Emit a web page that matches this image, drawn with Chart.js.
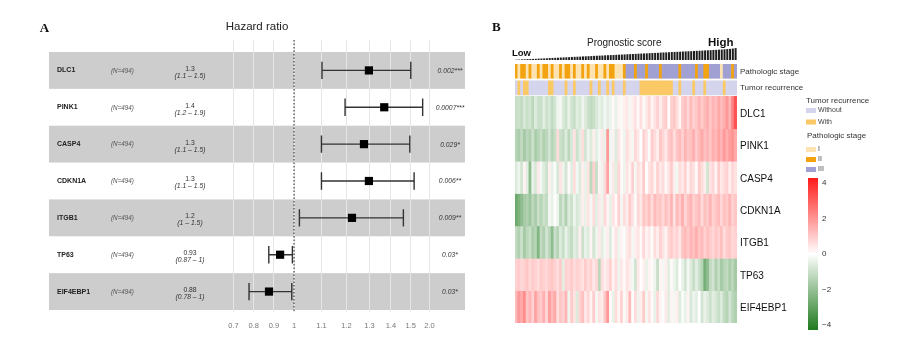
<!DOCTYPE html>
<html lang="en">
<head>
<meta charset="UTF-8">
<title>Hazard ratio forest plot and prognostic score heatmap</title>
<script src="https://cdn.jsdelivr.net/npm/chart.js"></script>
<style>
  body { margin: 0; background: #fff; }
  .page { position: relative; width: 899px; height: 356px; overflow: hidden; }
  canvas { position: absolute; }
</style>
</head>
<body>
<div class="page">
  <canvas id="forest" width="490" height="356" style="left:0;top:0"></canvas>
  <canvas id="score" width="222" height="12" style="left:515px;top:48px"></canvas>
  <canvas id="heat" width="409" height="356" style="left:490px;top:0"></canvas>
</div>

<script>
// ---- panel A: Cox model results ----
const genes = ['DLC1', 'PINK1', 'CASP4', 'CDKN1A', 'ITGB1', 'TP63', 'EIF4EBP1'];
const nLabels = ['(N=494)', '(N=494)', '(N=494)', '(N=494)', '(N=494)', '(N=494)', '(N=494)'];
const hrEst = [1.297, 1.368, 1.275, 1.297, 1.223, 0.931, 0.876];
const hrLow = [1.102, 1.194, 1.100, 1.100, 1.019, 0.875, 0.777];
const hrHigh = [1.500, 1.820, 1.495, 1.590, 1.462, 0.992, 0.989];
const hrText = ['1.3', '1.4', '1.3', '1.3', '1.2', '0.93', '0.88'];
const ciText = ['(1.1 – 1.5)', '(1.2 – 1.9)', '(1.1 – 1.5)', '(1.1 – 1.5)', '(1 – 1.5)', '(0.87 – 1)', '(0.78 – 1)'];
const pText = ['0.002***', '0.0007***', '0.029*', '0.006**', '0.009**', '0.03*', '0.03*'];
const hrTicks = [0.7, 0.8, 0.9, 1, 1.1, 1.2, 1.3, 1.4, 1.5, 2.0];
const hrTickLabels = ['0.7', '0.8', '0.9', '1', '1.1', '1.2', '1.3', '1.4', '1.5', '2.0'];

// ---- panel B: heatmap ----
const heatGenes = ['DLC1', 'PINK1', 'CASP4', 'CDKN1A', 'ITGB1', 'TP63', 'EIF4EBP1'];
const scoreBars = [
  0.3, 0.4, 0.6, 0.7, 0.8, 0.9, 1.0, 1.1, 1.3, 1.4,
  1.5, 1.6, 1.8, 1.9, 2.0, 2.1, 2.3, 2.4, 2.5, 2.6,
  2.8, 2.9, 3.0, 3.1, 3.3, 3.4, 3.5, 3.6, 3.8, 3.9,
  4.0, 4.1, 4.3, 4.4, 4.5, 4.6, 4.8, 4.9, 5.0, 5.1,
  5.3, 5.4, 5.5, 5.6, 5.8, 5.9, 6.0, 6.1, 6.3, 6.4,
  6.5, 6.6, 6.8, 6.9, 7.0, 7.1, 7.3, 7.4, 7.5, 7.6,
  7.8, 7.9, 8.0, 8.1, 8.3, 8.4, 8.5, 8.6, 8.8, 8.9,
  9.0, 9.2, 9.3, 9.5, 9.6, 9.8, 10.0, 10.2, 10.5, 10.9
];
const stageCodes = [
  2, 1, 2, 2, 1, 2, 1, 1, 2, 1,
  2, 2, 1, 2, 1, 1, 2, 1, 2, 2,
  1, 2, 1, 1, 2, 1, 2, 1, 1, 2,
  1, 1, 2, 1, 2, 2, 1, 1, 1, 2,
  3, 3, 3, 2, 3, 3, 3, 2, 3, 3,
  3, 3, 2, 3, 3, 3, 3, 3, 3, 2,
  3, 3, 3, 3, 3, 2, 3, 3, 2, 2,
  3, 3, 3, 3, 1, 3, 3, 3, 2, 3
];
const recurCodes = [
  0, 1, 0, 1, 1, 0, 0, 0, 0, 0,
  0, 0, 1, 1, 0, 0, 0, 0, 1, 0,
  0, 1, 0, 0, 0, 0, 0, 1, 0, 0,
  1, 0, 0, 1, 0, 1, 0, 0, 0, 1,
  0, 0, 0, 0, 0, 1, 1, 1, 1, 1,
  1, 1, 1, 1, 1, 1, 1, 0, 0, 1,
  0, 0, 0, 0, 1, 0, 0, 0, 1, 0,
  0, 0, 0, 0, 0, 1, 0, 0, 0, 0
];
const heatDLC1 = [
  -1.0, -0.9, -1.1, -0.7, -1.0, -0.8, -1.2, -0.6, -0.9, -1.0,
  -0.5, -0.9, -0.7, -1.1, -0.8, -0.3, -0.2, -0.6, -0.9, -0.4,
  -0.8, -1.0, -0.5, -0.7, -0.3, -0.6, -0.9, -1.1, -1.0, -0.7,
  -0.4, -0.6, -0.2, -0.5, -0.3, 0.1, -0.4, 0.2, -0.1, 0.3,
  0.4, -0.2, 0.3, 0.5, 0.1, 0.6, -0.1, 0.4, 0.7, 0.2,
  0.5, 0.8, 0.3, 0.7, 0.9, 0.1, 0.8, 1.0, 0.6, 0.2,
  0.9, 1.1, 0.7, 1.2, 0.8, 1.0, 1.3, 0.9, 1.2, 1.4,
  1.0, 1.3, 1.1, 1.5, 1.2, 1.4, 1.8, 1.3, 2.2, 3.0
];
const heatPINK1 = [
  -1.3, -1.5, -1.1, -1.6, -1.2, -1.4, -0.9, -1.5, -1.3, -1.0,
  -1.4, -1.2, -0.8, -1.3, -1.0, 0.6, -0.9, -1.1, -0.6, -1.2,
  -0.7, 0.5, -0.9, -0.5, 0.6, -0.8, -0.3, -0.6, 0.3, -0.5,
  -0.2, 0.4, -0.4, 1.8, -0.3, 0.2, -0.6, 0.5, 0.1, -0.3,
  0.6, 0.3, -0.2, 0.7, 0.4, 0.0, 0.8, 0.5, -0.1, 0.9,
  0.6, 0.3, 1.0, 0.7, 0.4, 0.9, 1.1, 0.6, 1.0, 1.2,
  0.8, 1.3, 1.0, 1.1, 1.4, 0.9, 1.2, 1.5, 1.1, 1.3,
  1.0, 1.4, 1.2, 1.6, 1.3, 1.8, 1.4, 1.7, 1.9, 1.5
];
const heatCASP4 = [
  -0.6, -0.3, -0.8, 0.2, -0.5, -2.0, -0.4, -0.7, 0.4, -0.2,
  -0.6, -0.9, 0.3, -0.4, -0.1, -0.7, 0.5, -0.3, -0.8, 0.1,
  -0.5, 0.6, -0.2, -0.6, 0.3, -0.4, 0.5, -1.2, 0.8, -1.0,
  0.2, -0.3, 0.6, 1.6, -0.2, 0.4, -0.5, 0.7, 0.1, -0.3,
  0.5, 0.2, 0.8, -0.2, 0.6, 0.3, 0.9, 0.0, 0.5, 0.7,
  0.2, 0.8, 0.4, 0.6, 0.1, 0.5, 0.9, 0.3, -0.2, 0.6,
  0.4, 0.8, 0.2, 0.7, 0.5, 0.1, 0.9, 0.6, 0.3, -0.8,
  0.5, 0.7, 0.2, 0.9, 0.4, 0.6, 0.8, 0.3, 0.7, 0.5
];
const heatCDKN1A = [
  -2.6, -2.3, -2.0, -1.6, -1.4, -1.7, -1.2, -1.5, -1.0, -1.3,
  -0.9, -1.1, -0.2, -0.4, 0.0, -0.3, -1.2, -0.8, -1.4, -0.6,
  -0.9, -0.3, -0.7, -0.5, 0.3, -0.4, 0.5, -0.2, 0.6, -0.5,
  0.4, -0.3, 0.7, 0.2, -0.4, 0.5, 0.1, 0.8, -0.2, 0.6,
  0.3, 0.9, 0.5, -0.1, 0.7, 0.4, 1.0, 0.8, 1.1, 0.6,
  1.2, 0.9, 1.0, 0.7, 1.1, 0.8, 1.3, 0.5, 1.2, 0.9,
  1.4, 0.7, 1.1, 1.3, 0.8, 1.0, 1.2, 0.6, 1.1, 0.9,
  1.3, 0.8, 1.0, 1.2, 0.7, 1.1, 0.9, 1.3, 0.8, 1.0
];
const heatITGB1 = [
  -1.1, -1.4, -0.9, -1.6, -1.2, -1.0, -1.5, -1.3, -2.2, -1.1,
  -1.4, -0.8, -1.2, -2.0, -0.9, -1.3, -0.6, -1.0, -0.4, -0.8,
  -1.1, -0.5, -0.7, 0.3, -0.9, -0.4, -0.6, 0.2, -0.8, -0.3,
  0.4, -0.5, -0.2, 0.3, -0.6, 0.1, 0.5, -0.3, 0.2, -0.1,
  0.4, 0.6, -0.2, 0.3, 0.5, 0.1, 0.7, 0.2, 0.4, -0.1,
  0.6, 0.3, 0.8, 0.5, 0.2, 0.7, 0.9, 0.6, 0.8, 0.4,
  1.0, 1.2, 0.9, 1.3, 1.1, 1.4, 1.0, 1.2, 0.8, 1.1,
  0.9, 0.7, 1.0, 0.8, 1.1, 0.6, 0.9, 1.0, 0.7, 0.8
];
const heatTP63 = [
  0.8, 0.9, 0.7, 0.8, 1.0, 0.7, 0.9, 0.8, 0.6, 0.9,
  0.8, 0.7, 0.9, 1.0, 0.8, 0.6, 0.9, -0.5, 0.8, 0.7,
  0.9, 0.6, 0.8, 0.7, 0.5, 0.9, 0.6, 0.8, 0.4, 0.7,
  -1.2, 0.6, 0.3, 0.5, 0.8, 0.2, 0.6, -0.3, 0.4, 0.1,
  0.5, 0.3, -0.2, -0.8, 0.4, 0.0, 0.3, -0.4, 0.2, 0.1,
  -0.3, -1.0, 0.2, -0.2, 0.3, -0.5, 0.1, -0.3, -0.6, 0.0,
  -0.4, -0.8, -0.2, -0.6, -1.0, -0.5, -0.9, -1.3, -2.4, -2.0,
  -1.1, -0.8, -1.4, -1.0, -1.6, -1.3, -1.1, -1.5, -1.2, -1.6
];
const heatEIF4EBP1 = [
  1.2, 1.8, 1.5, 2.0, 1.0, 1.3, 0.8, 1.6, 1.1, 0.9,
  1.4, 0.7, 1.7, 1.2, 1.5, 0.6, 1.0, 0.8, 1.3, -0.3,
  0.9, 0.5, -0.6, 0.8, 1.1, 0.4, 0.7, 0.2, 0.9, -0.2,
  0.5, 0.3, 1.0, 1.8, 0.1, -0.4, 0.6, 0.2, 0.8, -0.1,
  0.4, 1.2, 0.0, 0.6, -0.3, 0.3, 0.9, -0.2, 0.5, 0.1,
  -0.4, 0.7, 0.2, -0.1, 0.4, -0.5, 0.2, -0.2, 0.3, -0.6,
  -0.1, -0.4, 0.2, -0.7, -0.3, -0.5, 0.0, -0.8, -0.4, -0.6,
  -0.9, -0.5, -0.7, -1.0, -0.6, -1.1, -1.3, -0.8, -1.2, -1.4
];
const heatRows = [heatDLC1, heatPINK1, heatCASP4, heatCDKN1A, heatITGB1, heatTP63, heatEIF4EBP1];

const stageNames = ['I', 'II', 'III'];
const stageColors = ['#fde2b2', '#f2a30f', '#a0a0d2'];
const recurNames = ['Without', 'With'];
const recurColors = ['#d4d4ed', '#fbc866'];
const colorbarLabels = ['4', '2', '0', '−2', '−4'];

const FONT = "'Liberation Sans', Arial, sans-serif";
const SERIF = "'Liberation Serif', 'Times New Roman', serif";

// HR axis: linear below 1, log between 1 and 1.5, squeezed above
function hrPos(v) {
  if (v < 1) return (v - 1) * 0.7;
  if (v <= 1.5) return Math.log(v);
  return Math.log(1.5) + (v - 1.5) * 0.129;
}

function heatColor(v) {
  const t = Math.min(Math.abs(v) / 4, 1);
  const end = v >= 0 ? [255, 26, 26] : [30, 122, 30];
  const c = end.map(e => Math.round(255 + (e - 255) * t));
  return 'rgb(' + c.join(',') + ')';
}

const forestTable = {
  id: 'forestTable',
  beforeDraw(chart) {
    const { ctx, chartArea, scales: { y } } = chart;
    ctx.save();
    ctx.fillStyle = '#cdcdcd';
    genes.forEach((g, i) => {
      if (i % 2 !== 0) return;
      const top = y.getPixelForValue(i - 0.5);
      const bot = y.getPixelForValue(i + 0.5);
      ctx.fillRect(chartArea.left, top, chartArea.right - chartArea.left, bot - top);
    });
    ctx.restore();
  },
  beforeDatasetsDraw(chart) {
    const { ctx, chartArea, scales: { x, y } } = chart;
    ctx.save();
    // reference line at HR = 1
    const x1 = x.getPixelForValue(hrPos(1));
    ctx.strokeStyle = '#222';
    ctx.lineWidth = 1;
    ctx.setLineDash([1.5, 2]);
    ctx.beginPath();
    ctx.moveTo(x1, chartArea.top);
    ctx.lineTo(x1, chartArea.bottom + 1);
    ctx.stroke();
    ctx.setLineDash([]);
    // confidence intervals
    ctx.strokeStyle = '#333';
    ctx.lineWidth = 1.4;
    genes.forEach((g, i) => {
      const yc = y.getPixelForValue(i);
      const xl = x.getPixelForValue(hrPos(hrLow[i]));
      const xh = x.getPixelForValue(hrPos(hrHigh[i]));
      ctx.beginPath();
      ctx.moveTo(xl, yc); ctx.lineTo(xh, yc);
      ctx.moveTo(xl, yc - 8.7); ctx.lineTo(xl, yc + 8.7);
      ctx.moveTo(xh, yc - 8.7); ctx.lineTo(xh, yc + 8.7);
      ctx.stroke();
    });
    ctx.restore();
  },
  afterDraw(chart) {
    const { ctx, scales: { y } } = chart;
    ctx.save();
    ctx.textBaseline = 'middle';
    ctx.fillStyle = '#111';
    ctx.font = 'bold 13px ' + SERIF;
    ctx.textAlign = 'center';
    ctx.fillText('A', 44.5, 29);
    ctx.fillStyle = '#222';
    ctx.font = '11.5px ' + FONT;
    ctx.fillText('Hazard ratio', 257, 27);

    genes.forEach((g, i) => {
      const yc = y.getPixelForValue(i);
      ctx.textAlign = 'left';
      ctx.fillStyle = '#222';
      ctx.font = 'bold 7px ' + FONT;
      ctx.fillText(g, 57, yc);
      ctx.fillStyle = '#555';
      ctx.font = 'italic 6.3px ' + FONT;
      ctx.fillText(nLabels[i], 111, yc + 0.5);
      ctx.textAlign = 'center';
      ctx.fillStyle = '#333';
      ctx.font = '6.8px ' + FONT;
      ctx.fillText(hrText[i], 190, yc - 1.5);
      ctx.font = 'italic 6.8px ' + FONT;
      ctx.fillText(ciText[i], 190, yc + 5.5);
      ctx.fillText(pText[i], 450, yc + 0.5);
    });
    ctx.restore();
  }
};

new Chart(document.getElementById('forest'), {
  type: 'scatter',
  data: {
    datasets: [{
      data: genes.map((g, i) => ({ x: hrPos(hrEst[i]), y: i })),
      pointStyle: 'rect',
      pointRadius: 5.8,
      backgroundColor: '#000',
      borderWidth: 0
    }]
  },
  options: {
    responsive: false,
    animation: false,
    devicePixelRatio: 1,
    layout: { padding: { left: 49, right: 25, top: 40, bottom: 14 } },
    plugins: { legend: { display: false }, tooltip: { enabled: false } },
    scales: {
      x: {
        type: 'linear',
        min: -245 / 288,
        max: 171 / 288,
        afterBuildTicks: s => { s.ticks = hrTicks.map(v => ({ value: hrPos(v) })); },
        afterFit: s => { s.height = 30; s.paddingLeft = 0; s.paddingRight = 0; },
        grid: { color: '#e6e6e6', lineWidth: 1, drawTicks: false },
        border: { display: false },
        ticks: {
          autoSkip: false,
          maxRotation: 0,
          padding: 9,
          color: '#777',
          font: { family: FONT, size: 7.5 },
          callback: (v, i) => hrTickLabels[i]
        }
      },
      y: { type: 'linear', display: false, reverse: true, min: -0.825, max: 6.554 }
    }
  },
  plugins: [forestTable]
});

// ---- prognostic score wedge ----
const colLabels = scoreBars.map((v, i) => String(i + 1));
new Chart(document.getElementById('score'), {
  type: 'bar',
  data: {
    labels: colLabels,
    datasets: [{ data: scoreBars, backgroundColor: '#1e1e1e', barPercentage: 0.72, categoryPercentage: 1, borderWidth: 0 }]
  },
  options: {
    responsive: false,
    animation: false,
    devicePixelRatio: 1,
    plugins: { legend: { display: false }, tooltip: { enabled: false } },
    scales: {
      x: { display: false },
      y: { display: false, min: 0, max: 11 }
    }
  }
});

// ---- annotation bars + heatmap, with titles and legend ----
const OX = 490; // canvas left offset on the page
const heatTickPos = [0.25, 0.74].concat(heatGenes.map((g, r) => r + 1.55));
const heatTickLabels = ['Pathologic stage', 'Tumor recurrence'].concat(heatGenes);
const barBase = { grouped: false, barPercentage: 1, categoryPercentage: 1, borderWidth: 0 };

const heatDecor = {
  id: 'heatDecor',
  afterDraw(chart) {
    const ctx = chart.ctx;
    ctx.save();
    ctx.textBaseline = 'middle';
    ctx.textAlign = 'left';
    ctx.fillStyle = '#111';
    ctx.font = 'bold 13px ' + SERIF;
    ctx.fillText('B', 492 - OX, 28);
    ctx.fillStyle = '#222';
    ctx.font = '10px ' + FONT;
    ctx.fillText('Prognostic score', 587 - OX, 43);
    ctx.fillStyle = '#111';
    ctx.font = 'bold 9.5px ' + FONT;
    ctx.fillText('Low', 512 - OX, 53);
    ctx.font = 'bold 11.5px ' + FONT;
    ctx.fillText('High', 708 - OX, 43);

    // legend: tumor recurrence
    ctx.fillStyle = '#333';
    ctx.font = '8px ' + FONT;
    ctx.fillText('Tumor recurrence', 806 - OX, 101);
    recurNames.forEach((n, i) => {
      const yc = 110.5 + i * 11.5;
      ctx.fillStyle = recurColors[i];
      ctx.fillRect(806 - OX, yc - 2.5, 10, 5);
      ctx.fillStyle = '#444';
      ctx.font = '7px ' + FONT;
      ctx.fillText(n, 818 - OX, yc);
    });
    // legend: pathologic stage
    ctx.fillStyle = '#333';
    ctx.font = '8px ' + FONT;
    ctx.fillText('Pathologic stage', 807 - OX, 136);
    stageNames.forEach((n, i) => {
      const yc = 149.5 + i * 10;
      ctx.fillStyle = stageColors[i];
      ctx.fillRect(806 - OX, yc - 2.5, 10, 5);
      ctx.fillStyle = '#444';
      ctx.font = '7px ' + FONT;
      ctx.fillText(n, 818 - OX, yc);
    });
    // colour bar
    const g = ctx.createLinearGradient(0, 178, 0, 330);
    g.addColorStop(0, heatColor(4.28));
    g.addColorStop(0.5, heatColor(0));
    g.addColorStop(1, heatColor(-4.28));
    ctx.fillStyle = g;
    ctx.fillRect(808 - OX, 178, 10, 152);
    ctx.fillStyle = '#333';
    ctx.font = '8px ' + FONT;
    colorbarLabels.forEach((t, i) => ctx.fillText(t, 822 - OX, 183 + i * 35.5));
    ctx.restore();
  }
};

new Chart(document.getElementById('heat'), {
  type: 'bar',
  data: {
    labels: colLabels,
    datasets: [
      Object.assign({ data: stageCodes.map(() => [0.01, 0.44]), backgroundColor: stageCodes.map(c => stageColors[c - 1]) }, barBase),
      Object.assign({ data: recurCodes.map(() => [0.52, 0.955]), backgroundColor: recurCodes.map(c => recurColors[c]) }, barBase)
    ].concat(heatRows.map((vals, r) =>
      Object.assign({ data: vals.map(() => [r + 1, r + 2]), backgroundColor: vals.map(heatColor) }, barBase)))
  },
  options: {
    responsive: false,
    animation: false,
    devicePixelRatio: 1,
    layout: { padding: { left: 25, right: 94, top: 64, bottom: 33 } },
    plugins: { legend: { display: false }, tooltip: { enabled: false } },
    scales: {
      x: { display: false },
      y: {
        type: 'linear',
        position: 'right',
        reverse: true,
        min: 0,
        max: 8,
        grid: { display: false, drawTicks: false },
        border: { display: false },
        afterBuildTicks: s => { s.ticks = heatTickPos.map(v => ({ value: v })); },
        afterFit: s => { s.width = 68; s.paddingTop = 0; s.paddingBottom = 0; },
        ticks: {
          autoSkip: false,
          padding: 3,
          color: ctx => ctx.index < 2 ? '#333' : '#111',
          font: ctx => ({ family: FONT, size: ctx.index < 2 ? 8 : 10 }),
          callback: (v, i) => heatTickLabels[i]
        }
      }
    }
  },
  plugins: [heatDecor]
});
</script>
</body>
</html>
